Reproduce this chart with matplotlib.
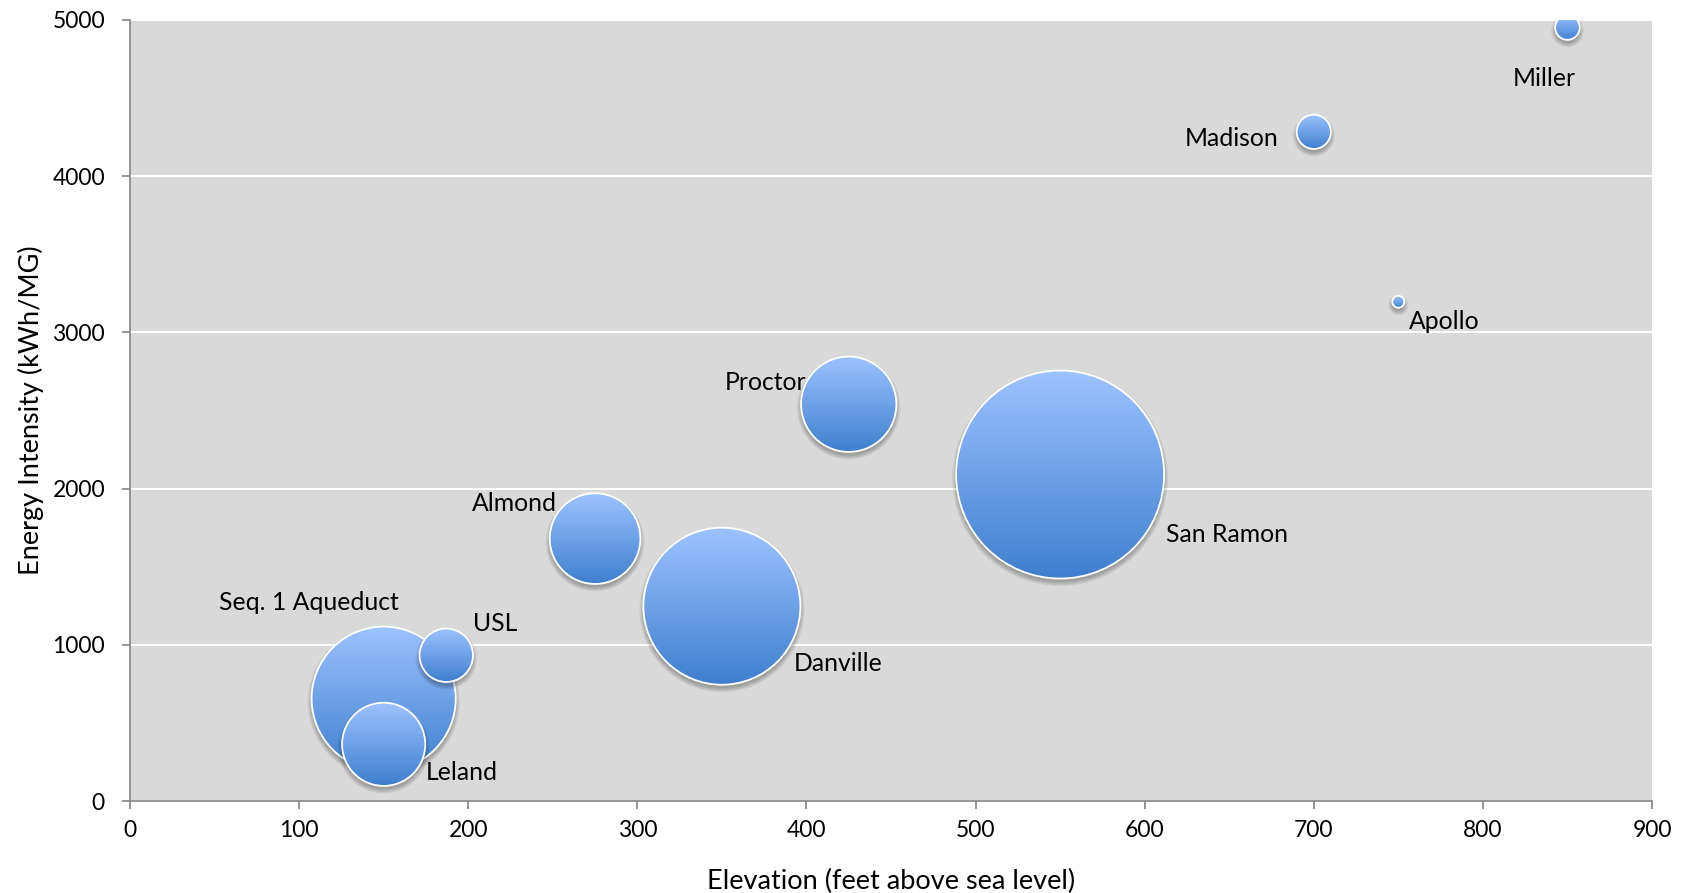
import numpy as np
import matplotlib.pyplot as plt
from matplotlib.patches import Ellipse
from matplotlib.colors import LinearSegmentedColormap

plt.rcParams['font.family'] = ['Lato', 'DejaVu Sans']

# plant data
names = ["Seq. 1 Aqueduct", "Leland", "USL", "Almond", "Danville",
         "Proctor", "San Ramon", "Madison", "Apollo", "Miller"]
elevation = [150, 150, 187, 275, 350, 425, 550, 700, 750, 850]
intensity = [655, 363, 933, 1680, 1247, 2540, 2090, 4284, 3196, 4952]
bubble_size = [48, 16, 6.6, 19, 57, 21, 100, 2.7, 0.33, 1.4]

# label offsets in points (dx, dy) from bubble centre
label_offsets = [(-54, 69), (56, -20), (35, 23), (-58, 25), (84, -41),
                 (-60, 16), (120, -43), (-59, -5), (33, -14), (-17, -37)]

fig = plt.figure(figsize=(16.88, 8.93), dpi=100)
ax = fig.add_axes([130 / 1688, 92 / 893, 1522 / 1688, 781 / 893])
ax.set_facecolor('#d9d9d9')
ax.set_xlim(0, 900)
ax.set_ylim(0, 5000)

bbox = ax.get_window_extent()
sx = bbox.width / 900.0
sy = bbox.height / 5000.0
max_r = 104.0  # px radius for biggest bubble

cmap = LinearSegmentedColormap.from_list('bub', ['#3f7fce', '#9dc3fe'])
grad = np.linspace(0, 1, 256).reshape(-1, 1)

order = np.argsort(bubble_size)[::-1]
for z, i in enumerate(order):
    x, y = elevation[i], intensity[i]
    r = max_r * np.sqrt(bubble_size[i] / max(bubble_size))
    rx, ry = r / sx, r / sy
    zb = 3 + z * 3
    # soft shadow
    for k in range(4):
        ax.add_patch(Ellipse((x, y - 3.5 / sy), 2 * (r + k * 1.3) / sx, 2 * (r + k * 1.3) / sy,
                             facecolor='black', edgecolor='none', alpha=0.07, zorder=zb))
    circ = Ellipse((x, y), 2 * rx, 2 * ry, facecolor='none', edgecolor='white',
                   linewidth=1.3, zorder=zb + 2)
    ax.add_patch(circ)
    im = ax.imshow(grad, cmap=cmap, extent=[x - rx, x + rx, y - ry, y + ry],
                   origin='lower', aspect='auto', zorder=zb + 1, interpolation='bilinear')
    im.set_clip_path(circ)

for i, name in enumerate(names):
    ax.annotate(name, (elevation[i], intensity[i]), xytext=label_offsets[i],
                textcoords='offset points', ha='center', va='center',
                fontsize=17.8, color='black', zorder=50)

ax.set_xlim(0, 900)
ax.set_ylim(0, 5000)
ax.set_xticks(range(0, 901, 100))
ax.set_yticks(range(0, 5001, 1000))
ax.grid(axis='y', color='white', linewidth=1.5, zorder=1)
ax.set_axisbelow(True)

for s in ['top', 'right']:
    ax.spines[s].set_visible(False)
for s in ['left', 'bottom']:
    ax.spines[s].set_color('#8c8c8c')
    ax.spines[s].set_linewidth(1.3)
    ax.spines[s].set_zorder(60)

ax.tick_params(axis='both', direction='out', length=6, width=1.3, color='#8c8c8c',
               labelsize=16.5, labelcolor='black')
ax.tick_params(axis='y', pad=12)
ax.tick_params(axis='x', pad=8)

ax.set_xlabel("Elevation (feet above sea level)", fontsize=19.5, labelpad=20)
ax.set_ylabel("Energy Intensity (kWh/MG)", fontsize=19.5, labelpad=6)

fig.savefig('out.png', dpi=100)
